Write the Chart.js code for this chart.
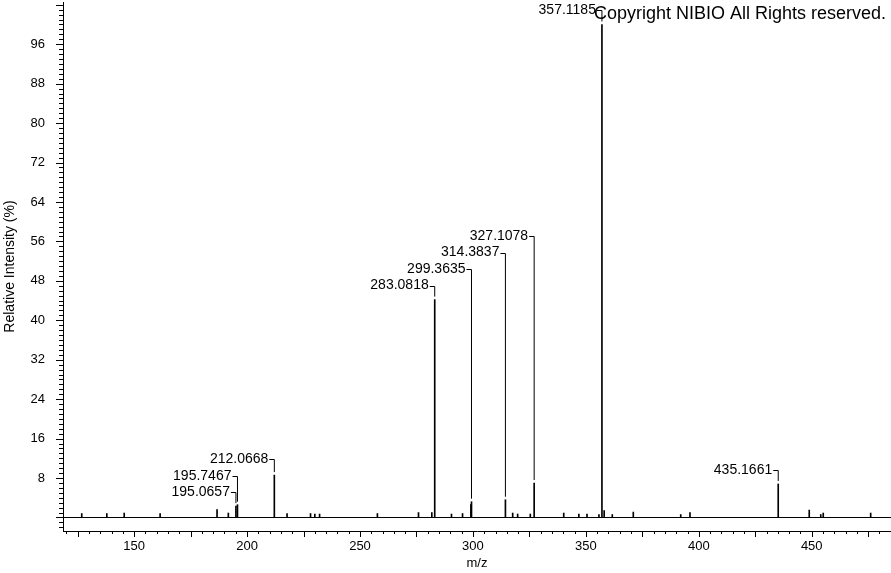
<!DOCTYPE html>
<html>
<head>
<meta charset="utf-8">
<script src="https://cdn.jsdelivr.net/npm/chart.js@4.4.0/dist/chart.umd.min.js"></script>
<style>
  html, body { margin: 0; padding: 0; background: #fff; }
  #wrap { width: 891px; height: 573px; }
</style>
</head>
<body>
<div id="wrap"><canvas id="spec" width="891" height="573"></canvas></div>
<script>
// labelled peaks: m/z and relative intensity (%)
const labelMz = [195.0657, 195.7467, 212.0668, 283.0818, 299.3635, 314.3837, 327.1078, 357.1185, 435.1661];
const labelInt = [2.3, 2.6, 8.6, 44.2, 3.2, 3.6, 7.0, 100, 6.8];

// small unlabelled peaks
const minorMz = [126.8, 137.9, 145.6, 161.5, 186.7, 191.7, 217.7, 228.1, 230.0, 232.1, 257.7, 275.9,
  281.8, 290.5, 295.4, 299.1, 317.6, 319.8, 325.4, 340.2, 346.9, 350.5, 355.8, 358.1, 361.7, 371.0,
  392.0, 396.1, 448.9, 454.0, 455.1, 476.1];
const minorInt = [0.8, 0.8, 0.9, 0.8, 1.6, 0.9, 0.8, 0.8, 0.7, 0.7, 0.8, 1.0,
  1.0, 0.7, 0.8, 2.6, 0.9, 0.7, 0.7, 0.9, 0.7, 0.7, 0.6, 1.4, 0.6, 1.1,
  0.6, 1.0, 1.5, 0.6, 0.9, 0.9];

const copyright = "Copyright NIBIO All Rights reserved.";
const font = '"Liberation Sans", Arial, sans-serif';

let peaks = [];
for (let i = 0; i < minorMz.length; i++) peaks.push({ x: minorMz[i], y: minorInt[i] });
for (let i = 0; i < labelMz.length; i++) peaks.push({ x: labelMz[i], y: labelInt[i] });

function range(a, b, step) {
  let out = [];
  for (let v = a; v <= b; v += step) out.push({ value: v });
  return out;
}

function noPad(s) {
  s.paddingTop = 0;
  s.paddingBottom = 0;
  s.paddingLeft = 0;
  s.paddingRight = 0;
}

// baseline, tick marks, peak labels with connectors, copyright line
const decor = {
  id: "decor",
  beforeDraw(chart) {
    const ctx = chart.ctx;
    ctx.save();
    ctx.fillStyle = "#fff";
    ctx.fillRect(0, 0, chart.width, chart.height);
    ctx.restore();
  },
  afterDraw(chart) {
    const { ctx, chartArea: area, scales: { x, y } } = chart;
    ctx.save();
    ctx.strokeStyle = "#000";
    ctx.lineWidth = 1;

    const base = Math.round(y.getPixelForValue(0)) + 0.5;
    ctx.beginPath();
    ctx.moveTo(area.left, base);
    ctx.lineTo(area.right, base);
    y.ticks.forEach((t) => {
      const py = Math.round(y.getPixelForValue(t.value)) + 0.5;
      const len = t.value % 8 === 0 ? 7 : 4;
      ctx.moveTo(area.left - len, py);
      ctx.lineTo(area.left, py);
    });
    x.ticks.forEach((t) => {
      const px = Math.round(x.getPixelForValue(t.value)) + 0.5;
      const len = t.value % 25 === 0 ? 6 : 3;
      ctx.moveTo(px, area.bottom);
      ctx.lineTo(px, area.bottom + len);
    });
    ctx.stroke();

    // labels: start just above the peak, pushed up when they would cross an earlier one
    ctx.font = "14px " + font;
    ctx.fillStyle = "#000";
    ctx.textAlign = "right";
    ctx.textBaseline = "middle";
    const order = labelMz.map((m, i) => i).sort((a, b) => labelMz[a] - labelMz[b]);
    let placed = [];
    order.forEach((i) => {
      const text = labelMz[i].toFixed(4);
      const px = x.getPixelForValue(labelMz[i]);
      const top = y.getPixelForValue(labelInt[i]);
      const w = ctx.measureText(text).width;
      const l = px - 6 - w, r = px - 1;
      let ly = top - 14;
      let moved = true;
      while (moved) {
        moved = false;
        for (const o of placed) {
          const hitsLine = o.px > l && o.px < r && ly + 8 > o.ly;
          const hitsText = o.l < r && o.r > l && Math.abs(o.ly - ly) < 16;
          if (hitsLine || hitsText) {
            ly = o.ly - 16.5;
            moved = true;
          }
        }
      }
      placed.push({ px, ly, l, r });
      ctx.fillText(text, px - 6, ly);
      const hy = Math.round(ly) + 0.5;
      ctx.beginPath();
      ctx.moveTo(px - 5, hy);
      ctx.lineTo(px, hy);
      ctx.lineTo(px, top - 3);
      ctx.stroke();
    });

    ctx.font = "18px " + font;
    ctx.textAlign = "left";
    ctx.textBaseline = "alphabetic";
    ctx.fillText(copyright, 594, 19);
    ctx.restore();
  },
};

new Chart(document.getElementById("spec"), {
  type: "bar",
  data: {
    datasets: [
      {
        data: peaks,
        backgroundColor: "#000",
        borderWidth: 0,
        barThickness: 1,
      },
    ],
  },
  options: {
    responsive: false,
    animation: false,
    layout: { padding: { top: 2, right: 0, left: 0, bottom: 0 } },
    plugins: { legend: { display: false }, tooltip: { enabled: false } },
    scales: {
      x: {
        type: "linear",
        offset: false,
        min: 118.5,
        max: 485.1,
        afterBuildTicks: (s) => { s.ticks = range(120, 485, 5); },
        afterFit: (s) => { s.height = 42; noPad(s); },
        grid: { display: false, drawTicks: false, offset: false },
        border: { display: true, color: "#000", width: 1 },
        ticks: {
          autoSkip: false,
          maxRotation: 0,
          padding: 8,
          color: "#000",
          font: { family: font, size: 13 },
          callback: (v) => (v % 50 === 0 ? v : ""),
        },
        title: {
          display: true,
          text: "m/z",
          color: "#000",
          font: { family: font, size: 13 },
          padding: { top: 0, bottom: 2 },
        },
      },
      y: {
        min: -2.74,
        max: 104.56,
        afterBuildTicks: (s) => { s.ticks = range(-2, 104, 1); },
        afterFit: (s) => { s.width = 63; noPad(s); },
        grid: { display: false, drawTicks: false },
        border: { display: true, color: "#000", width: 1 },
        ticks: {
          autoSkip: false,
          padding: 18,
          color: "#000",
          font: { family: font, size: 13 },
          callback: (v) => (v % 8 === 0 && v > 0 && v < 100 ? v : ""),
        },
        title: {
          display: true,
          text: "Relative Intensity (%)",
          color: "#000",
          font: { family: font, size: 14 },
          padding: { top: 2, bottom: 0 },
        },
      },
    },
  },
  plugins: [decor],
});
</script>
</body>
</html>
